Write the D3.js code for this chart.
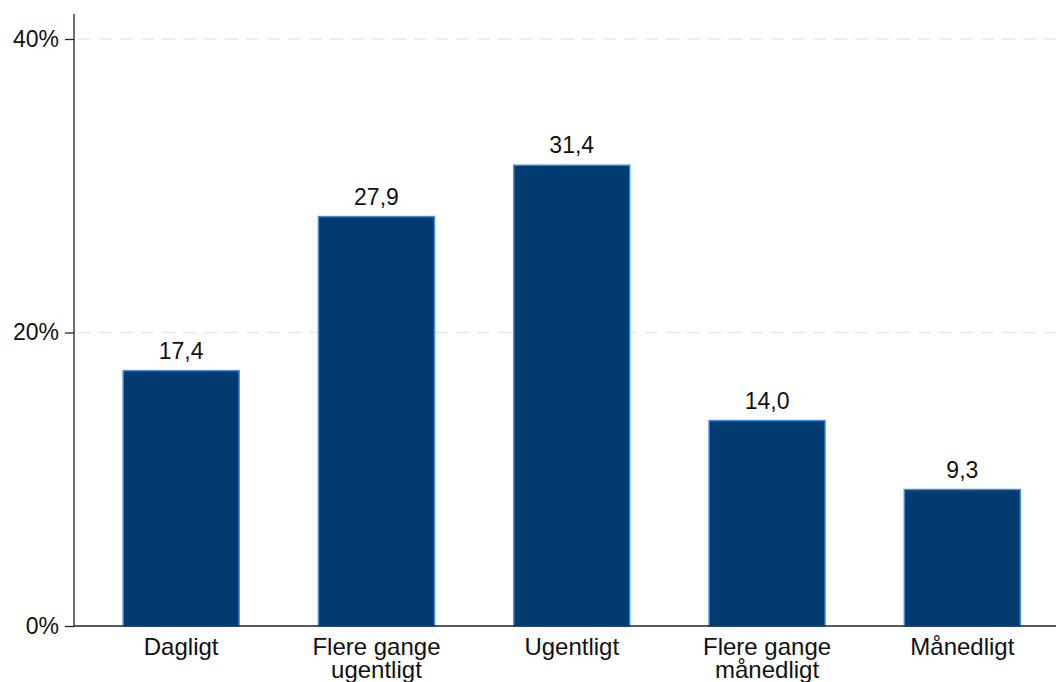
<!DOCTYPE html>
<html><head><meta charset="utf-8">
<script src="https://cdn.jsdelivr.net/npm/d3@7"></script>
<style>body{margin:0;background:#fff;} text{font-family:"Liberation Sans",Arial,Helvetica,sans-serif;}</style>
</head><body>
<svg id="c" width="1056" height="682"></svg>
<script>
const categories = [["Dagligt"],["Flere gange","ugentligt"],["Ugentligt"],["Flere gange","månedligt"],["Månedligt"]];
const values = [17.4, 27.9, 31.4, 14.0, 9.3];
const yTicks = [0, 20, 40];

const svg = d3.select("#c");
const x0 = 74, yBottom = 626, yTop = 14;
const keys = categories.map(c => c.join(" "));
const x = d3.scaleBand().domain(keys).range([83.5, 1060]).paddingInner(0.406).paddingOuter(0.203);
const y = d3.scaleLinear().domain([0, 40]).range([yBottom, 39]);

// grid
svg.append("g").selectAll("line").data(yTicks.filter(d => d > 0)).join("line")
  .attr("x1", x0 + 4).attr("x2", 1056).attr("y1", d => y(d)).attr("y2", d => y(d))
  .attr("stroke", "#e8e8e8").attr("stroke-width", 1.5).attr("stroke-dasharray", "13,8");

// bars
svg.append("g").selectAll("rect").data(values).join("rect")
  .attr("x", (d, i) => x(keys[i])).attr("width", x.bandwidth())
  .attr("y", d => y(d)).attr("height", d => yBottom - y(d))
  .attr("fill", "#023b70").attr("stroke", "#3d8fe6").attr("stroke-width", 1.5);

// value labels
svg.append("g").selectAll("text").data(values).join("text")
  .attr("x", (d, i) => x(keys[i]) + x.bandwidth() / 2).attr("y", d => y(d) - 12)
  .attr("text-anchor", "middle").attr("font-size", 23).attr("fill", "#111")
  .text(d => d.toFixed(1).replace(".", ","));

// y axis
const yAxis = d3.axisLeft(y).tickValues(yTicks).tickSize(9).tickFormat(d => d + "%");
const ga = svg.append("g").attr("transform", `translate(${x0},0)`).call(yAxis);
ga.select(".domain").remove();
ga.selectAll(".tick line").attr("stroke", "#222").attr("stroke-width", 1.3);
ga.selectAll(".tick text").attr("font-size", 23).attr("fill", "#111").attr("x", -15)
  .attr("font-family", "Liberation Sans, Arial, sans-serif");
svg.append("line").attr("x1", x0).attr("x2", x0).attr("y1", yTop).attr("y2", yBottom)
  .attr("stroke", "#222").attr("stroke-width", 1.3);
svg.append("line").attr("x1", x0).attr("x2", 1056).attr("y1", yBottom).attr("y2", yBottom)
  .attr("stroke", "#222").attr("stroke-width", 1.3);

// x labels
const xl = svg.append("g").selectAll("text").data(categories).join("text")
  .attr("x", (d, i) => x(keys[i]) + x.bandwidth() / 2).attr("y", 655)
  .attr("text-anchor", "middle").attr("font-size", 24).attr("fill", "#111");
xl.each(function(d) {
  const t = d3.select(this);
  d.forEach((line, j) => t.append("tspan").attr("x", t.attr("x")).attr("dy", j === 0 ? 0 : 23).text(line));
});
</script>
</body></html>
